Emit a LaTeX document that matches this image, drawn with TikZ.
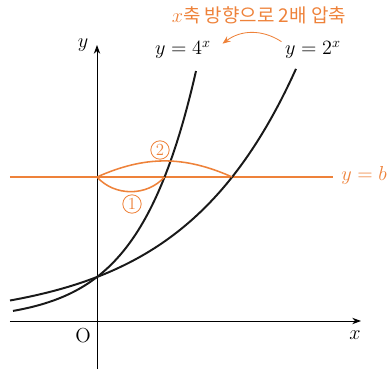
\documentclass[tikz,border=0pt]{standalone}
\usepackage{fontspec}
\newfontfamily\krfont{Noto Sans CJK KR}
\usetikzlibrary{arrows.meta,positioning}
\definecolor{graphorange}{RGB}{238,130,58}

\begin{document}
\begin{tikzpicture}[x=0.025cm, y=0.025cm,
    axis/.style={line width=0.6pt, -{Stealth[length=2.2mm,width=1.6mm]}},
    expcurve/.style={line width=1.4pt, black!90},
    bline/.style={line width=1.1pt, graphorange},
    swing/.style={line width=1.1pt, graphorange},
    lbl/.style={font=\Large, inner sep=1pt},
    circnum/.style={circle, draw=graphorange, text=graphorange, line width=0.6pt,
                    inner sep=0pt, minimum size=0.46cm, font=\large},
    shrink/.style={-{Stealth[length=2mm,width=1.6mm]}, line width=0.6pt, graphorange}
]
\useasboundingbox (-97,-48) rectangle (291,321);

% axes
\coordinate (O) at (0,0);
\coordinate (xstart) at (-87,0);
\coordinate (xtip)   at (264,0);
\coordinate (ystart) at (0,-48);
\coordinate (ytip)   at (0,276);
\draw[axis] (xstart) -- (xtip);
\draw[axis] (ystart) -- (ytip);
\node[lbl] (xlbl) at (258,-14) {$x$};
\node[lbl] (olbl) at (-14,-15) {O};
\node[lbl] (ylbl) at (-14,276) {$y$};

% y = b and the two crossing points
\coordinate (B0) at (0,144);
\coordinate (P4) at ({79*ln(144/44)/ln(4)},144);
\coordinate (P2) at ({79*ln(144/44)/ln(2)},144);
\coordinate (bl) at (-87,144);
\coordinate (br) at (236,144);
\draw[bline] (bl) -- (br);
\node[lbl, text=graphorange] (blbl) at (267,146) {$y=b$};

% curves
\draw[expcurve] plot[domain=-84:99, samples=80] ({\x},{44*pow(4,\x/79)});
\draw[expcurve] plot[domain=-87:199, samples=80] ({\x},{44*pow(2,\x/79)});
\node[lbl] (l4) at (86,271) {$y=4^{x}$};
\node[lbl] (l2) at (216,271) {$y=2^{x}$};

% distances along y = b
\draw[swing] (B0) to[bend right=48] (P4);
\draw[swing] (B0) to[bend left=24] (P2);
\node[circnum] (n1) at (35,117) {1};
\node[circnum] (n2) at (63,171) {2};

% shrink arrow
\node[text=graphorange, font=\krfont\fontsize{13.5}{16}\selectfont] (note) at (162,306) {$x$축 방향으로 2배 압축};
\draw[shrink] ([xshift=-0.05cm,yshift=-0.05cm]l2.north west) to[bend right=35] ([xshift=0.25cm,yshift=-0.1cm]l4.north east);
\end{tikzpicture}
\end{document}
